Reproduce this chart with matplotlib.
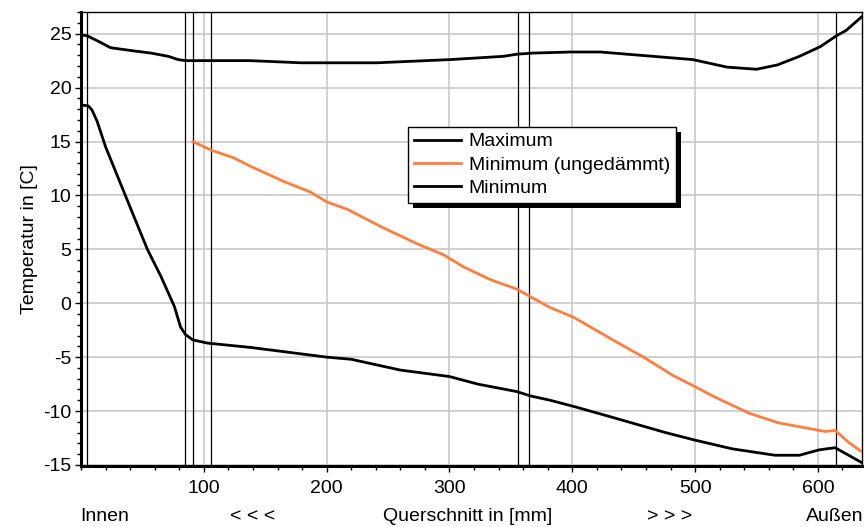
import matplotlib
matplotlib.use("Agg")
import matplotlib.pyplot as plt
from matplotlib.patches import Rectangle
from matplotlib.ticker import MultipleLocator, FixedLocator

plt.rcParams['font.family'] = ['Liberation Sans', 'DejaVu Sans']
plt.rcParams['axes.unicode_minus'] = False

# Maximum
x_max = [0, 5, 14, 24, 43, 57, 71, 79, 85, 100, 138, 179, 241, 301, 344, 355, 368,
         398, 423, 455, 498, 526, 550, 567, 585, 602, 615, 623, 636]
y_max = [24.9, 24.8, 24.3, 23.7, 23.4, 23.2, 22.9, 22.6, 22.5, 22.5, 22.5, 22.3, 22.3,
         22.6, 22.9, 23.1, 23.2, 23.3, 23.3, 23.0, 22.6, 21.9, 21.7, 22.1, 22.9, 23.8,
         24.8, 25.3, 26.6]

# Minimum (ungedaemmt)
x_unins = [91, 106, 124, 138, 165, 187, 200, 217, 246, 274, 295, 311, 333, 355, 366,
           382, 401, 433, 458, 482, 501, 516, 544, 568, 606, 614, 625, 636]
y_unins = [15.0, 14.2, 13.5, 12.7, 11.3, 10.3, 9.4, 8.7, 7.0, 5.5, 4.5, 3.4, 2.2, 1.3,
           0.6, -0.4, -1.3, -3.4, -5.0, -6.7, -7.8, -8.7, -10.2, -11.1, -11.9, -11.8,
           -12.9, -13.8]

# Minimum
x_min = [0, 6, 9, 13, 20, 30, 40, 54, 65, 76, 81, 85, 91, 103, 138, 200, 220, 260, 300,
         323, 355, 366, 382, 402, 427, 476, 500, 530, 565, 585, 601, 614, 625, 636]
y_min = [18.4, 18.3, 17.9, 16.9, 14.5, 11.7, 8.9, 5.0, 2.5, -0.3, -2.2, -2.9, -3.4, -3.7,
         -4.1, -5.0, -5.2, -6.2, -6.8, -7.5, -8.2, -8.6, -9.0, -9.6, -10.4, -12.0,
         -12.7, -13.5, -14.1, -14.1, -13.6, -13.4, -14.1, -14.8]

# layer boundaries
layers = [5, 85, 91, 106, 356, 365, 615]
x_ticks = [100, 200, 300, 400, 500, 600]

fig = plt.figure(figsize=(8.64, 5.27), dpi=100)
ax = fig.add_axes([0.0938, 0.1157, 0.904, 0.8613])

ax.set_xlim(0, 636)
ax.set_ylim(-15.1, 27)
ax.xaxis.set_major_locator(FixedLocator(x_ticks))
ax.xaxis.set_minor_locator(MultipleLocator(20))
ax.yaxis.set_major_locator(MultipleLocator(5))
ax.yaxis.set_minor_locator(MultipleLocator(1))
ax.grid(True, which='major', color='#c8c8c8', linewidth=1.2)
ax.set_axisbelow(True)

for xl in layers:
    ax.axvline(xl, color='black', linewidth=0.9, zorder=2)

ax.plot(x_max, y_max, color='black', linewidth=2.0, label='Maximum', zorder=3)
ax.plot(x_unins, y_unins, color='#ff7f40', linewidth=2.0,
        label='Minimum (ungedämmt)', zorder=3)
ax.plot(x_min, y_min, color='black', linewidth=2.0, label='Minimum', zorder=3)

ax.spines['left'].set_linewidth(2.2)
ax.spines['bottom'].set_linewidth(2.2)
ax.spines['top'].set_linewidth(1.0)
ax.spines['right'].set_linewidth(1.0)
ax.tick_params(which='both', direction='out', labelsize=14, width=1)
ax.tick_params(which='major', length=4)
ax.tick_params(which='minor', length=3)
ax.tick_params(axis='x', pad=6)
ax.tick_params(axis='y', pad=3)
ax.set_ylabel('Temperatur in [C]', fontsize=14, labelpad=4)

leg = ax.legend(loc='upper left', bbox_to_anchor=(0.419, 0.747), borderaxespad=0,
                fancybox=False, framealpha=1, edgecolor='black', fontsize=14,
                handlelength=2.4, handletextpad=0.4, labelspacing=0.3,
                borderpad=0.3)
leg.get_frame().set_linewidth(1.0)

fig.canvas.draw()
bb = leg.get_window_extent()
shadow = Rectangle((bb.x0 + 5, bb.y0 - 5), bb.width, bb.height, transform=None,
                   facecolor='black', edgecolor='none', zorder=9)
fig.add_artist(shadow)
leg.remove()
fig.add_artist(leg)
leg.set_zorder(11)

yb = 0.003
fig.text(80 / 864, yb, 'Innen', fontsize=14, ha='left', va='bottom')
fig.text(253 / 864, yb, '< < <', fontsize=14, ha='center', va='bottom')
fig.text(468 / 864, yb, 'Querschnitt in [mm]', fontsize=14, ha='center', va='bottom')
fig.text(670 / 864, yb, '> > >', fontsize=14, ha='center', va='bottom')
fig.text(863 / 864, yb, 'Außen', fontsize=14, ha='right', va='bottom')

fig.savefig('out.png', dpi=100)
